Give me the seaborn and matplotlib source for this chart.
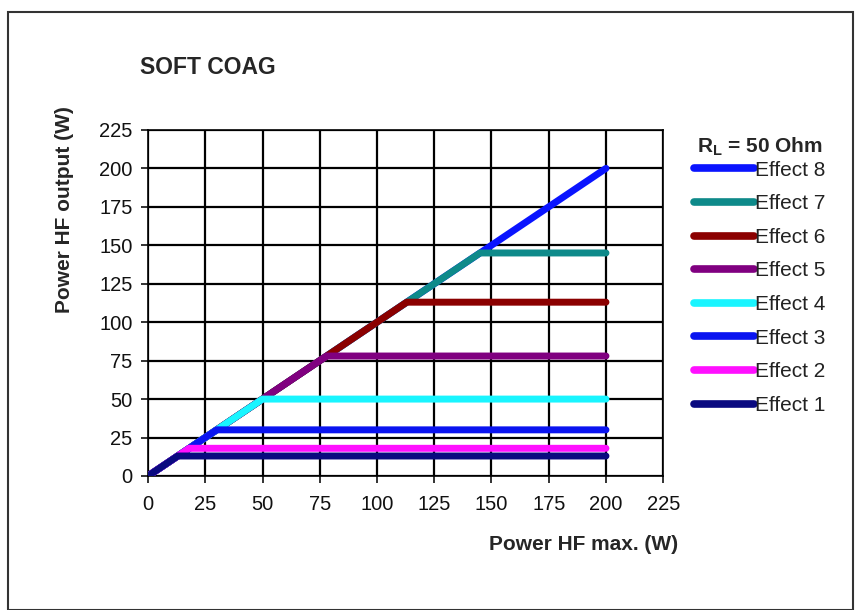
import matplotlib
matplotlib.use("Agg")
import matplotlib.pyplot as plt
import seaborn as sns
import pandas as pd
from matplotlib.patches import Rectangle

effects = ["Effect 8", "Effect 7", "Effect 6", "Effect 5", "Effect 4", "Effect 3", "Effect 2", "Effect 1"]
caps = [200, 145, 113, 78, 50, 30, 18, 13]
colors = ["#0a14ff", "#0e8a8a", "#8b0000", "#800080", "#19f5ff", "#0a14f0", "#ff10ff", "#0a0a80"]
x_max = 200
ticks = [0, 25, 50, 75, 100, 125, 150, 175, 200, 225]

rows = []
for name, c in zip(effects, caps):
    for xv, yv in [(0, 0), (c, c), (x_max, c)]:
        rows.append({"effect": name, "x": xv, "y": yv})
df = pd.DataFrame(rows)

sns.set_theme(style="white")
plt.rcParams['font.family'] = ['Liberation Sans', 'DejaVu Sans']

fig = plt.figure(figsize=(8.58, 6.10), dpi=100)
ax = fig.add_axes([0.1725, 0.2197, 0.6005, 0.5673])

for name, col in zip(effects, colors):
    sub = df[df.effect == name]
    sns.lineplot(data=sub, x="x", y="y", ax=ax, color=col, linewidth=5,
                 sort=False, estimator=None, label=name, solid_capstyle="round",
                 solid_joinstyle="round", zorder=3)

ax.set_xlim(0, 225)
ax.set_ylim(0, 225)
ax.set_xticks(ticks)
ax.set_yticks(ticks)
ax.grid(True, color="black", linewidth=1.6, zorder=1)
ax.set_axisbelow(True)
for s in ax.spines.values():
    s.set_color("black")
    s.set_linewidth(1.2)
ax.tick_params(axis="both", labelsize=14.5, colors="#111111", length=5, direction="out",
               bottom=True, left=True, width=1.2, pad=6)
ax.tick_params(axis="x", pad=9)
ax.set_xlabel("")
ax.set_ylabel("")

fig.text(140/858, 1-68/610, "SOFT COAG", fontsize=16.5, fontweight="bold", ha="left", va="center")
fig.text(584/858, 1-544/610, "Power HF max. (W)", fontsize=15, fontweight="bold", ha="center", va="center")
fig.text(64/858, 1-210/610, "Power HF output (W)", fontsize=15, fontweight="bold", ha="center", va="center", rotation=90)

handles, labels = ax.get_legend_handles_labels()
leg = ax.legend(handles, labels, loc="upper left", bbox_to_anchor=(686/858, 1-127/610),
                bbox_transform=fig.transFigure, frameon=False, fontsize=15,
                handlelength=2.85, handletextpad=0.08, labelspacing=0.7, borderaxespad=0,
                title=r"R$_{\mathregular{L}}$ = 50 Ohm", title_fontproperties={"weight": "bold", "size": 15})
leg._legend_box.sep = 2
for t in leg.get_texts():
    t.set_color("#222222")
for h in leg.get_lines():
    h.set_linewidth(5.5)

fig.patches.append(Rectangle((8/858, 0), 845/858, 1-12/610, transform=fig.transFigure,
                             fill=False, edgecolor="#333333", linewidth=1.5))

fig.savefig("out.png", dpi=100)
